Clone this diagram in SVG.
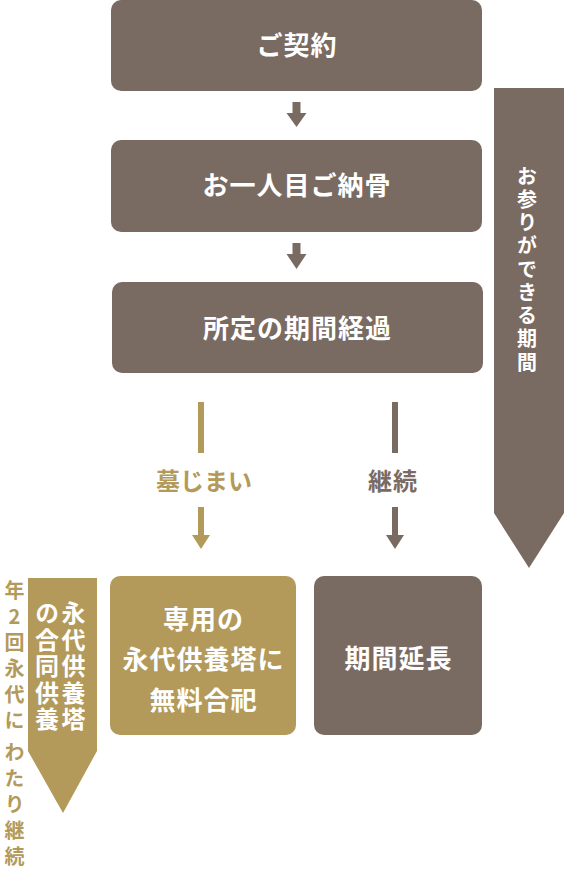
<svg xmlns="http://www.w3.org/2000/svg" width="564" height="888" viewBox="0 0 564 888">
<style>
.br{fill:#7a6b62}
.gd{fill:#b39a5a}
.t{font-family:"Noto Sans CJK JP","Noto Sans",sans-serif;font-weight:700;text-anchor:middle}
.v{font-family:"Noto Sans CJK JP","Noto Sans",sans-serif;font-weight:700;writing-mode:vertical-rl;text-orientation:upright;text-anchor:start}
.w{fill:#ffffff}
.lbl{font-size:26px;letter-spacing:1px}
.tb{fill:#7a6b62}
.tg{fill:#b39a5a}
</style>
<rect width="564" height="888" fill="#ffffff"/>
<g id="period-arrow">
<polygon class="br" points="494,88 564,88 564,513 529,568 494,513"/>
<text class="v w" font-size="20" letter-spacing="3.25" x="527" y="166">お参りができる期間</text>
</g>
<g id="memorial-arrow">
<polygon class="gd" points="28,578 97,578 97,751 63,813 28,751"/>
<text class="v w" font-size="24" letter-spacing="2.5" x="73.5" y="601">永代供養塔</text>
<text class="v w" font-size="24" letter-spacing="2.5" x="47" y="601">の合同供養</text>
<text class="v tg" font-size="20" letter-spacing="6" x="14.5" y="580">年2回永代に<tspan y="742"> </tspan><tspan y="742">わたり継続</tspan></text>
</g>
<g id="node-contract">
<rect class="br" x="111" y="0" width="371" height="91" rx="10"/>
<text class="t w lbl" x="297" y="55">ご契約</text>
</g>
<g id="node-first-burial">
<rect class="br" x="111" y="140" width="371" height="92" rx="10"/>
<text class="t w lbl" x="297" y="195">お一人目ご納骨</text>
</g>
<g id="node-period">
<rect class="br" x="112" y="282" width="371" height="91" rx="10"/>
<text class="t w lbl" x="297.5" y="338">所定の期間経過</text>
</g>
<g id="node-joint">
<rect class="gd" x="110" y="576" width="186" height="159" rx="10"/>
<text class="t w lbl"><tspan x="203.5" y="629">専用の</tspan><tspan x="203.5" y="669">永代供養塔に</tspan><tspan x="203.5" y="710">無料合祀</tspan></text>
</g>
<g id="node-extend">
<rect class="br" x="314" y="576" width="168" height="159" rx="10"/>
<text class="t w lbl" x="398.5" y="668">期間延長</text>
</g>
<g id="connectors">
<rect class="br" x="292.5" y="102" width="8" height="12"/>
<polygon class="br" points="286.5,113 306.5,113 296.5,127"/>
<rect class="br" x="292.5" y="243" width="8" height="12"/>
<polygon class="br" points="286.5,254 306.5,254 296.5,269"/>
<rect class="gd" x="198" y="402" width="6" height="51"/>
<text class="t tg" font-size="24" x="204" y="490">墓じまい</text>
<rect class="gd" x="198" y="507" width="6" height="29"/>
<polygon class="gd" points="192,535 210,535 201,549"/>
<rect class="br" x="392" y="402" width="6" height="51"/>
<text class="t tb" font-size="24" x="393" y="490" letter-spacing="1">継続</text>
<rect class="br" x="392" y="507" width="6" height="29"/>
<polygon class="br" points="386,535 404,535 395,549"/>
</g>
</svg>
